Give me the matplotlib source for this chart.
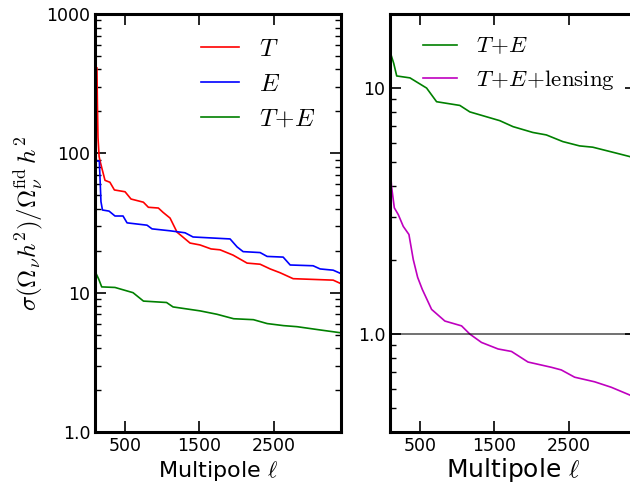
import numpy as np
import matplotlib
matplotlib.use("Agg")
import matplotlib.pyplot as plt
from matplotlib.ticker import LogLocator, NullFormatter

plt.rcParams["mathtext.fontset"] = "cm"
plt.rcParams["font.family"] = "DejaVu Sans"
plt.rcParams["xtick.direction"] = "in"
plt.rcParams["ytick.direction"] = "in"

# multipole ell and sigma(Omega_nu h^2)/Omega_nu h^2
ell_T = [126, 132, 140, 155, 170, 234, 300, 360, 503, 583, 749, 816, 950, 1013, 1107,
         1200, 1375, 1509, 1657, 1778, 1952, 2140, 2315, 2450, 2583, 2758, 3295, 3400]
sig_T = [410, 230, 130, 95, 87, 64, 62, 54.6, 53, 47, 44.6, 41, 40.5, 37.7, 34.3,
         27.2, 22.7, 22, 20.6, 20.3, 18.6, 16.3, 16, 14.8, 13.9, 12.6, 12.3, 11.6]

ell_E = [120, 158, 180, 200, 288, 368, 476, 530, 798, 865, 1107, 1308, 1415, 1912, 2006,
         2087, 2315, 2409, 2624, 2718, 3026, 3120, 3295, 3400]
sig_E = [88, 88, 45, 39.2, 38.5, 35.5, 35.5, 31.7, 30.5, 28.7, 27.8, 26.9, 25.1, 24.3, 21.3,
         19.7, 19.4, 18.2, 18, 15.8, 15.6, 14.8, 14.5, 13.7]

ell_TE = [112, 150, 190, 368, 610, 750, 1060, 1147, 1510, 1735, 1960, 2225, 2410,
          2630, 2810, 3120, 3400]
sig_TE = [13.8, 12.5, 11.0, 10.9, 10.0, 8.7, 8.5, 7.9, 7.4, 7.0, 6.5, 6.4, 6.0,
          5.8, 5.7, 5.4, 5.15]

ell_TE2 = [109, 150, 190, 368, 591, 725, 1037, 1171, 1573, 1750, 2016, 2197, 2418,
           2643, 2820, 3135, 3313, 3400]
sig_TE2 = [13.8, 12.6, 11.2, 11.0, 10.0, 8.8, 8.5, 8.0, 7.37, 6.97, 6.6, 6.45, 6.06,
           5.82, 5.75, 5.44, 5.27, 5.15]

ell_lens = [109, 120, 158, 211, 278, 354, 412, 471, 533, 658, 836, 1060, 1171, 1327,
            1550, 1730, 1951, 2264, 2398, 2577, 2844, 3068, 3313, 3400]
sig_lens = [4.5, 4.0, 3.26, 3.06, 2.74, 2.54, 2.01, 1.70, 1.52, 1.26, 1.13, 1.08, 1.0, 0.925,
            0.87, 0.85, 0.77, 0.733, 0.715, 0.668, 0.64, 0.608, 0.566, 0.55]

xticks = [500, 1500, 2500]

fig = plt.figure(figsize=(6.3, 4.84), dpi=100)
ax1 = fig.add_axes([95 / 630, 52 / 484, 246 / 630, 418 / 484])
ax2 = fig.add_axes([390 / 630, 52 / 484, 246 / 630, 418 / 484])

ax1.plot(ell_T, sig_T, color="r", lw=1.2, label=r"$T$")
ax1.plot(ell_E, sig_E, color="b", lw=1.2, label=r"$E$")
ax1.plot(ell_TE, sig_TE, color="g", lw=1.2, label=r"$T\!+\!E$")
ax1.set_yscale("log")
ax1.set_ylim(1, 1000)
ax1.set_yticks([1, 10, 100, 1000], ["1.0", "10", "100", "1000"])
ax1.set_ylabel(r"$\sigma(\Omega_\nu h^2)/\Omega_\nu^{\rm fid}\,h^2$", fontsize=18, labelpad=1)
ax1.legend(loc="upper left", bbox_to_anchor=(0.34, 1.0), frameon=False,
           fontsize=18, handlelength=1.5, labelspacing=0.45)

ax2.plot(ell_TE2, sig_TE2, color="g", lw=1.2, label=r"$T\!+\!E$")
ax2.plot(ell_lens, sig_lens, color="m", lw=1.2, label=r"$T\!+\!E\!+\!{\rm lensing}$")
ax2.axhline(1.0, color="k", lw=1.2, alpha=0.65)
ax2.set_yscale("log")
ax2.set_ylim(0.4, 20)
ax2.set_yticks([1, 10], ["1.0", "10"])
ax2.yaxis.set_minor_formatter(NullFormatter())
ax2.legend(loc="upper left", bbox_to_anchor=(0.05, 1.0), frameon=False,
           fontsize=16.5, handlelength=1.5, labelspacing=0.45)

for ax, xs, lp in ((ax1, 16, 3), (ax2, 18, 1)):
    ax.set_xlim(100, 3400)
    ax.set_xticks(xticks)
    ax.set_xlabel(r"Multipole $\ell$", fontsize=xs, labelpad=lp)
    ax.yaxis.set_minor_locator(LogLocator(base=10, subs=np.arange(2, 10)))
    ax.tick_params(which="both", top=True, right=True, labelsize=12.5)
    ax.tick_params(which="major", length=8, width=1.2)
    ax.tick_params(which="minor", length=4, width=1.0)
    for s in ax.spines.values():
        s.set_linewidth(2.2)

fig.savefig("out.png", dpi=100)
